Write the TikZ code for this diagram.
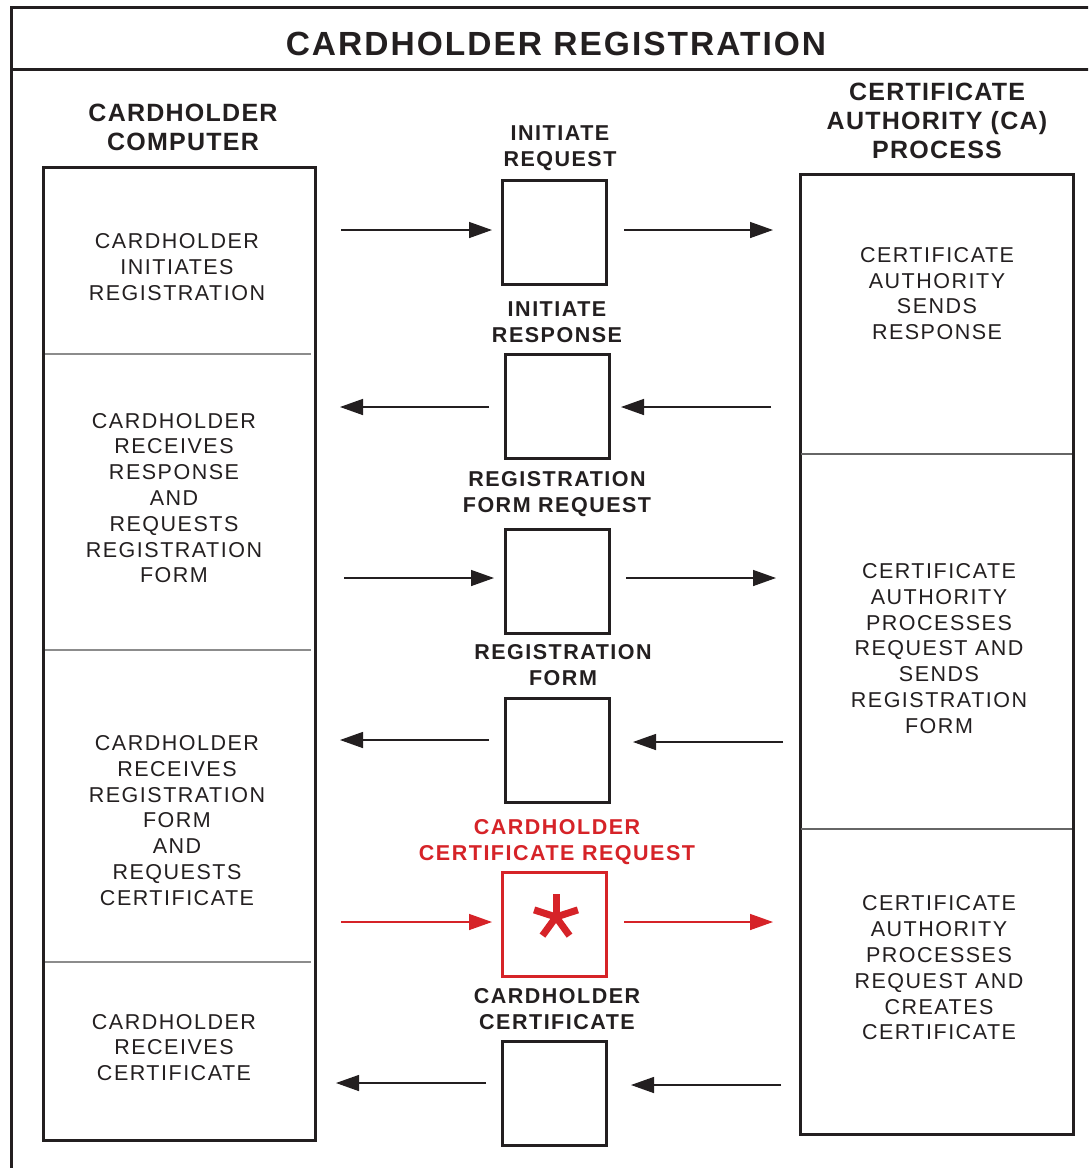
\documentclass[tikz,border=0pt]{standalone}
\usepackage{fontspec}
\usetikzlibrary{arrows.meta}
\newfontfamily\bodyf{Liberation Sans}[LetterSpace=7]
\newfontfamily\headf{Liberation Sans}[LetterSpace=5]
\newfontfamily\midf{Liberation Sans}[LetterSpace=7]
\newfontfamily\titlef{Liberation Sans}[LetterSpace=6]
\definecolor{ink}{RGB}{35,31,32}
\definecolor{sred}{RGB}{214,35,40}
\tikzset{
  frame/.style={draw=ink, line width=3pt},
  midbox/.style={draw=ink, line width=3pt, minimum width=104pt, minimum height=104pt, inner sep=0pt},
  redbox/.style={midbox, draw=sred},
  divl/.style={draw=black!45, line width=1.6pt},
  divr/.style={draw=black!60, line width=1.6pt},
  arr/.style={draw=ink, line width=1.4pt, -{Triangle[length=23pt,width=16pt]}},
  rarr/.style={arr, draw=sred, -{Triangle[length=23pt,width=16pt,fill=sred]}},
  body/.style={align=center, text=ink, inner sep=0pt, font=\bodyf\fontsize{21.5}{25.8}\selectfont},
  head/.style={align=center, text=ink, inner sep=0pt, font=\headf\bfseries\fontsize{25}{29}\selectfont},
  mid/.style={align=center, text=ink, inner sep=0pt, font=\midf\bfseries\fontsize{21.5}{26}\selectfont},
  ttl/.style={align=center, text=ink, inner sep=0pt, font=\titlef\bfseries\fontsize{33.5}{36}\selectfont},
}
\begin{document}
\begin{tikzpicture}[x=1pt,y=-1pt]
\useasboundingbox (0,0) rectangle (1088,1168);
\clip (0,0) rectangle (1088,1168);
\fill[white] (0,0) rectangle (1088,1168);
% outer frame and title rule
\draw[frame] (11.5,7.5) rectangle (1100,1190);
\draw[frame] (11.5,69.5) -- (1100,69.5);
\node[ttl] (title) at (556,44) {CARDHOLDER REGISTRATION};
% column headers
\node[head] (hl) at (183,127.5) {CARDHOLDER\\COMPUTER};
\node[head] (hr) at (937,121) {CERTIFICATE\\AUTHORITY (CA)\\PROCESS};
% side boxes
\node[frame, minimum width=272pt, minimum height=973pt, inner sep=0pt] (L) at (179.5,653.5) {};
\node[frame, minimum width=273pt, minimum height=960pt, inner sep=0pt] (R) at (937,654.5) {};
\draw[divl] (45,354) -- (311,354);
\draw[divl] (45,650) -- (311,650);
\draw[divl] (45,962) -- (311,962);
\draw[divr] (801,454) -- (1072,454);
\draw[divr] (801,829) -- (1072,829);
% left texts
\node[body] (l1) at (177,267) {CARDHOLDER\\INITIATES\\REGISTRATION};
\node[body] (l2) at (174,498) {CARDHOLDER\\RECEIVES\\RESPONSE\\AND\\REQUESTS\\REGISTRATION\\FORM};
\node[body] (l3) at (177,820.5) {CARDHOLDER\\RECEIVES\\REGISTRATION\\FORM\\AND\\REQUESTS\\CERTIFICATE};
\node[body] (l4) at (174,1047.5) {CARDHOLDER\\RECEIVES\\CERTIFICATE};
% right texts
\node[body] (r1) at (937,293.5) {CERTIFICATE\\AUTHORITY\\SENDS\\RESPONSE};
\node[body] (r2) at (939,648.5) {CERTIFICATE\\AUTHORITY\\PROCESSES\\REQUEST AND\\SENDS\\REGISTRATION\\FORM};
\node[body] (r3) at (939,968) {CERTIFICATE\\AUTHORITY\\PROCESSES\\REQUEST AND\\CREATES\\CERTIFICATE};
% middle boxes
\node[midbox] (m1) at (554.5,232.5) {};
\node[midbox] (m2) at (557,406.5) {};
\node[midbox] (m3) at (557.5,581.5) {};
\node[midbox] (m4) at (557,750.5) {};
\node[redbox] (m5) at (554.5,924.5) {};
\node[midbox] (m6) at (554,1093.5) {};
% middle labels
\node[mid] (t1) at (560,148) {INITIATE\\REQUEST};
\node[mid] (t2) at (557,322) {INITIATE\\RESPONSE};
\node[mid] (t3) at (557,494) {REGISTRATION\\FORM REQUEST};
\node[mid] (t4) at (563,665) {REGISTRATION\\FORM};
\node[mid, text=sred] (t5) at (557,842) {CARDHOLDER\\CERTIFICATE REQUEST};
\node[mid] (t6) at (557,1009) {CARDHOLDER\\CERTIFICATE};
% asterisk
\coordinate (ast) at (556,917);
\foreach \a in {90,18,162,-54,234}
  \draw[sred, line width=7pt] (ast) -- ++(\a:-23);
% arrow end points
\coordinate (a1s) at (341,230); \coordinate (a1e) at (492,230);
\coordinate (b1s) at (624,230); \coordinate (b1e) at (773,230);
\coordinate (a2s) at (489,407); \coordinate (a2e) at (340,407);
\coordinate (b2s) at (771,407); \coordinate (b2e) at (621,407);
\coordinate (a3s) at (344,578); \coordinate (a3e) at (494,578);
\coordinate (b3s) at (626,578); \coordinate (b3e) at (776,578);
\coordinate (a4s) at (489,740); \coordinate (a4e) at (340,740);
\coordinate (b4s) at (783,742); \coordinate (b4e) at (633,742);
\coordinate (a5s) at (341,922); \coordinate (a5e) at (492,922);
\coordinate (b5s) at (624,922); \coordinate (b5e) at (773,922);
\coordinate (a6s) at (486,1083); \coordinate (a6e) at (336,1083);
\coordinate (b6s) at (781,1085); \coordinate (b6e) at (631,1085);
\draw[arr] (a1s) -- (a1e); \draw[arr] (b1s) -- (b1e);
\draw[arr] (a2s) -- (a2e); \draw[arr] (b2s) -- (b2e);
\draw[arr] (a3s) -- (a3e); \draw[arr] (b3s) -- (b3e);
\draw[arr] (a4s) -- (a4e); \draw[arr] (b4s) -- (b4e);
\draw[rarr] (a5s) -- (a5e); \draw[rarr] (b5s) -- (b5e);
\draw[arr] (a6s) -- (a6e); \draw[arr] (b6s) -- (b6e);
\end{tikzpicture}
\end{document}
